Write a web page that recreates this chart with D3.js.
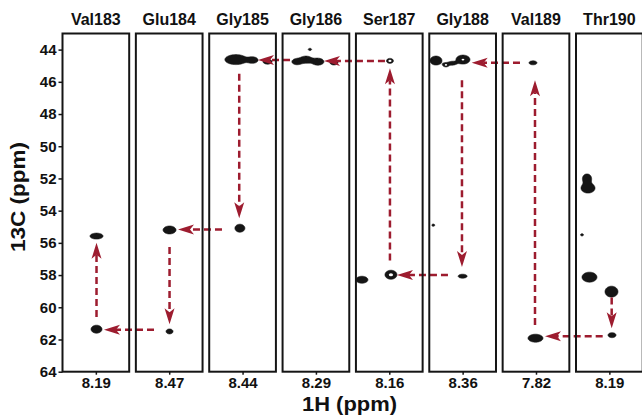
<!DOCTYPE html>
<html><head><meta charset="utf-8">
<script src="https://cdn.jsdelivr.net/npm/d3@7"></script>
<style>
body{margin:0;background:#fff}
svg{display:block}
text{font-family:"Liberation Sans",Arial,sans-serif;font-weight:bold;fill:#111}
</style>
</head><body>
<svg id="chart" width="642" height="418"></svg>
<script>
// ---------- data ----------
const residues = ["Val183","Glu184","Gly185","Gly186","Ser187","Gly188","Val189","Thr190"];
const hCenters = [8.19, 8.47, 8.44, 8.29, 8.16, 8.36, 7.82, 8.19];
const hTickLabels = ["8.19","8.47","8.44","8.29","8.16","8.36","7.82","8.19"];
const cTicks = [44, 46, 48, 50, 52, 54, 56, 58, 60, 62, 64];
const cDomain = [43, 64];
const stripHalfWidth = 0.1; // ppm of 1H shown in each strip

// peaks: [residue, 1H ppm, 13C ppm, 1H half-width, 13C half-width, hole fraction]
const peaks = [
  ["Val183", 8.188, 55.58, 0.0195, 0.186, 0],
  ["Val183", 8.188, 61.36, 0.0165, 0.248, 0],
  ["Glu184", 8.469, 55.20, 0.0195, 0.248, 0],
  ["Glu184", 8.469, 61.50, 0.0105, 0.155, 0],
  ["Gly185", 8.448, 55.09, 0.0150, 0.248, 0],
  ["Gly185", 8.460, 44.62, 0.0330, 0.310, 0],
  ["Gly185", 8.409, 44.65, 0.0150, 0.186, 0],
  ["Gly185", 8.365, 44.75, 0.0135, 0.155, 0],
  ["Gly186", 8.347, 44.75, 0.0150, 0.186, 0],
  ["Gly186", 8.320, 44.62, 0.0180, 0.217, 0],
  ["Gly186", 8.284, 44.75, 0.0180, 0.217, 0],
  ["Gly186", 8.236, 44.80, 0.0120, 0.155, 0],
  ["Gly186", 8.308, 43.99, 0.0050, 0.070, 0],
  ["Ser187", 8.158, 44.70, 0.0105, 0.155, 0.45],
  ["Ser187", 8.155, 57.98, 0.0180, 0.280, 0.35],
  ["Ser187", 8.242, 58.29, 0.0180, 0.217, 0],
  ["Gly188", 8.440, 44.68, 0.0180, 0.280, 0],
  ["Gly188", 8.410, 44.95, 0.0090, 0.124, 0.4],
  ["Gly188", 8.392, 44.85, 0.0120, 0.112, 0],
  ["Gly188", 8.359, 44.62, 0.0210, 0.280, 0.2],
  ["Gly188", 8.360, 58.07, 0.0135, 0.124, 0],
  ["Gly188", 8.448, 54.90, 0.0045, 0.070, 0],
  ["Val189", 7.829, 44.82, 0.0120, 0.124, 0],
  ["Val189", 7.8215, 61.92, 0.0225, 0.248, 0],
  ["Thr190", 8.257, 52.00, 0.0135, 0.280, 0],
  ["Thr190", 8.254, 52.60, 0.0210, 0.310, 0],
  ["Thr190", 8.2496, 58.13, 0.0225, 0.310, 0],
  ["Thr190", 8.1836, 59.03, 0.0195, 0.340, 0],
  ["Thr190", 8.182, 61.73, 0.0120, 0.155, 0],
  ["Thr190", 8.272, 55.50, 0.0045, 0.070, 0]
];

// sequential walk: [from residue, 1H, 13C, to residue, 1H, 13C]
const walk = [
  ["Val183", 8.188, 60.60, "Val183", 8.188, 56.00],
  ["Glu184", 8.5156, 61.40, "Val183", 8.1656, 61.40],
  ["Glu184", 8.469, 56.25, "Glu184", 8.469, 61.05],
  ["Gly185", 8.5017, 55.17, "Glu184", 8.4436, 55.17],
  ["Gly185", 8.450, 45.50, "Gly185", 8.450, 54.47],
  ["Gly186", 8.3677, 44.65, "Gly185", 8.3937, 44.65],
  ["Ser187", 8.173, 44.70, "Gly186", 8.2658, 44.70],
  ["Ser187", 8.158, 57.10, "Ser187", 8.158, 45.15],
  ["Gly188", 8.404, 58.00, "Ser187", 8.1369, 58.00],
  ["Gly188", 8.362, 45.90, "Gly188", 8.362, 57.50],
  ["Val189", 7.868, 44.82, "Gly188", 8.3329, 44.82],
  ["Val189", 7.823, 61.10, "Val189", 7.823, 45.90],
  ["Thr190", 8.210, 61.80, "Val189", 7.793, 61.80],
  ["Thr190", 8.183, 59.40, "Thr190", 8.183, 61.30]
];

// ---------- layout ----------
const svg = d3.select("#chart");
const yTop = 33.5, yBot = 371.7;
const band = d3.scaleBand().domain(residues).range([62.5, 642.7]).paddingInner(0.0908).paddingOuter(0);
const bw = band.bandwidth();
const y = d3.scaleLinear().domain(cDomain).range([yTop, yBot]);
const xs = {};
residues.forEach((r, i) => {
  xs[r] = d3.scaleLinear()
    .domain([hCenters[i] + stripHalfWidth, hCenters[i] - stripHalfWidth])
    .range([band(r), band(r) + bw]);
});

const ink = "#151515";
const arrowCol = "#9d1c2f";

// panel backgrounds
svg.selectAll("rect.bg").data(residues).join("rect")
  .attr("class", "bg")
  .attr("x", d => band(d)).attr("y", yTop)
  .attr("width", bw).attr("height", yBot - yTop)
  .attr("fill", "#fff");

// peaks via gaussian contours
const k = 2;
const gPeaks = svg.append("g");
residues.forEach((r, i) => {
  const x = xs[r];
  const x0 = band(r);
  const n = Math.ceil(bw * k), m = Math.ceil((yBot - yTop) * k);
  const pk = peaks.filter(p => p[0] === r);
  const vals = new Float64Array(n * m);
  for (let j = 0; j < m; j++) {
    const C = y.invert(yTop + (j + 0.5) / k);
    for (let ii = 0; ii < n; ii++) {
      const H = x.invert(x0 + (ii + 0.5) / k);
      let s = 0;
      for (const p of pk) {
        const a = (H - p[1]) / p[3], b = (C - p[2]) / p[4];
        s += Math.exp(-a * a - b * b);
      }
      vals[j * n + ii] = s;
    }
  }
  const cont = d3.contours().size([n, m]).thresholds([Math.exp(-1)])(vals);
  const path = d3.geoPath(d3.geoIdentity().scale(1 / k).translate([x0, yTop]));
  gPeaks.append("path").attr("d", path(cont[0]))
    .attr("fill", ink).attr("stroke", ink).attr("stroke-width", 0.6);
  // holes in contour rings
  pk.filter(p => p[5] > 0).forEach(p => {
    gPeaks.append("ellipse")
      .attr("cx", x(p[1])).attr("cy", y(p[2]))
      .attr("rx", Math.abs(x(p[1] + p[3] * p[5]) - x(p[1])))
      .attr("ry", Math.abs(y(p[2] + p[4] * p[5]) - y(p[2])))
      .attr("fill", "#fff");
  });
});

// walk arrows
const gArr = svg.append("g");
const headL = 16, headW = 5, notch = 4;
walk.forEach(w => {
  const sx = xs[w[0]](w[1]), sy = y(w[2]);
  const tx = xs[w[3]](w[4]), ty = y(w[5]);
  const len = Math.hypot(tx - sx, ty - sy);
  const ux = (tx - sx) / len, uy = (ty - sy) / len;
  const px = -uy, py = ux;
  const ex = tx - (headL - notch) * ux, ey = ty - (headL - notch) * uy;
  gArr.append("line")
    .attr("x1", sx).attr("y1", sy).attr("x2", ex).attr("y2", ey)
    .attr("stroke", arrowCol).attr("stroke-width", 2.5)
    .attr("stroke-dasharray", "7,4");
  const bx = tx - headL * ux, by = ty - headL * uy;
  gArr.append("path")
    .attr("d", `M${tx},${ty}L${bx + headW * px},${by + headW * py}L${ex},${ey}L${bx - headW * px},${by - headW * py}Z`)
    .attr("fill", arrowCol);
});

// panel borders
svg.selectAll("rect.frame").data(residues).join("rect")
  .attr("class", "frame")
  .attr("x", d => band(d)).attr("y", yTop)
  .attr("width", bw).attr("height", yBot - yTop)
  .attr("fill", "none").attr("stroke", ink).attr("stroke-width", 2);

// titles
svg.selectAll("text.title").data(residues).join("text")
  .attr("class", "title")
  .attr("x", d => band(d) + bw / 2).attr("y", 25)
  .attr("text-anchor", "middle").style("font-size", "16px")
  .text(d => d);

// y axis
const yAx = svg.append("g").attr("transform", `translate(${band(residues[0])},0)`)
  .call(d3.axisLeft(y).tickValues(cTicks).tickSize(4).tickPadding(2).tickSizeOuter(0));
yAx.select(".domain").remove();
yAx.selectAll("line").attr("stroke", ink).attr("stroke-width", 1.5);
yAx.selectAll("text").style("font-size", "15px").style("font-family", '"Liberation Sans",Arial,sans-serif').style("font-weight", "bold").attr("fill", "#111");

// x axes (one tick per strip)
residues.forEach((r, i) => {
  const ax = svg.append("g").attr("transform", `translate(0,${yBot})`)
    .call(d3.axisBottom(xs[r]).tickValues([hCenters[i]]).tickFormat(() => hTickLabels[i])
      .tickSize(3).tickPadding(3).tickSizeOuter(0));
  ax.select(".domain").remove();
  ax.selectAll("line").attr("stroke", ink).attr("stroke-width", 1.5);
  ax.selectAll("text").style("font-size", "15px").style("font-family", '"Liberation Sans",Arial,sans-serif').style("font-weight", "bold").attr("fill", "#111");
});

// axis titles
svg.append("text")
  .attr("x", 349.5).attr("y", 411)
  .attr("text-anchor", "middle").style("font-size", "20px")
  .attr("textLength", 95).attr("lengthAdjust", "spacingAndGlyphs")
  .text("1H (ppm)");
svg.append("text")
  .attr("transform", "translate(25,197) rotate(-90)")
  .attr("text-anchor", "middle").style("font-size", "20px")
  .attr("textLength", 110).attr("lengthAdjust", "spacingAndGlyphs")
  .text("13C (ppm)");
</script>
</body></html>
